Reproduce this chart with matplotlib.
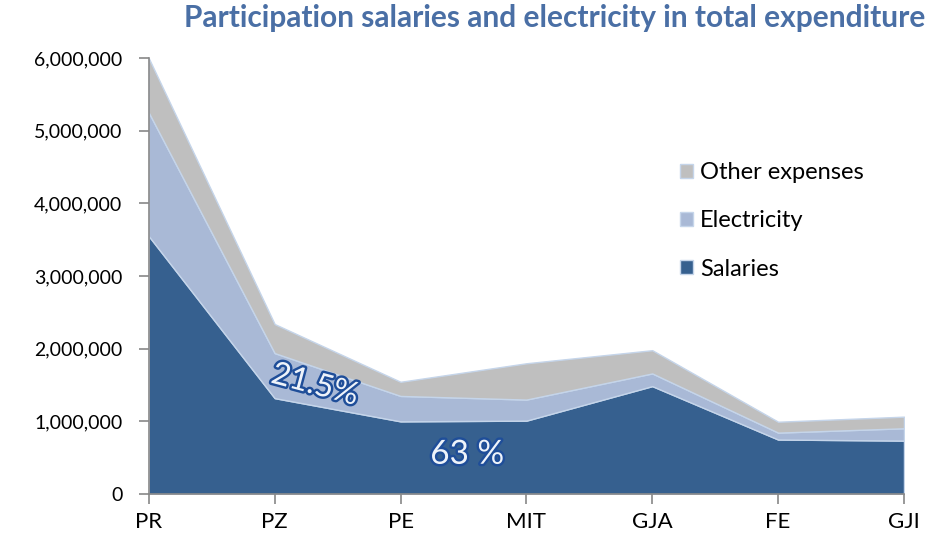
import matplotlib.pyplot as plt
import matplotlib.patheffects as pe
from matplotlib.ticker import FuncFormatter
import numpy as np

plt.rcParams['font.family'] = ['Lato', 'DejaVu Sans']

# values
units = ['PR', 'PZ', 'PE', 'MIT', 'GJA', 'FE', 'GJI']
salaries = [3550000, 1320000, 1000000, 1010000, 1485000, 750000, 735000]
electricity = [1700000, 620000, 350000, 290000, 175000, 95000, 170000]
other = [750000, 400000, 195000, 500000, 320000, 150000, 160000]
labels = ['Salaries', 'Electricity', 'Other expenses']
colors = ['#36608F', '#A9B9D6', '#BFBFBF']

fig = plt.figure(figsize=(9.3, 5.39), dpi=100)
ax = fig.add_axes([0.160, 0.0835, 0.812, 0.8085])

x = np.arange(len(units))
ax.stackplot(x, salaries, electricity, other, colors=colors,
             labels=labels, edgecolor='#C5D5EA', linewidth=1.0)

ax.set_xlim(0, len(units) - 1)
ax.set_ylim(0, 6000000)
ax.set_yticks(np.arange(0, 6000001, 1000000))
ax.yaxis.set_major_formatter(FuncFormatter(lambda v, p: f'{int(v):,}'))
ax.set_xticks(x)
ax.set_xticklabels(units)

for s in ['top', 'right']:
    ax.spines[s].set_visible(False)
for s in ['left', 'bottom']:
    ax.spines[s].set_color('#888888')
    ax.spines[s].set_linewidth(1.2)
ax.tick_params(axis='both', colors='#888888', length=7, width=1.2,
               labelcolor='black')
ax.tick_params(axis='y', labelsize=14, pad=12)
ax.tick_params(axis='x', labelsize=16, pad=6)
ax.set_axisbelow(False)

handles, lbls = ax.get_legend_handles_labels()
ax.legend(handles[::-1], lbls[::-1], loc='upper left',
          bbox_to_anchor=(0.675, 0.81), frameon=False, fontsize=17,
          handlelength=0.55, handleheight=0.55, handletextpad=0.3,
          labelspacing=1.15)

fig.text(0.995, 0.966, 'Participation salaries and electricity in total expenditure',
         ha='right', va='center', fontsize=21.5, fontweight='bold',
         color='#4A6FA5')

glow = [pe.withStroke(linewidth=3.5, foreground='#1F4E99')]
ax.text(1.32, 1500000, '21.5%', rotation=-15, ha='center', va='center',
        fontsize=23, color='#EEF3FA', path_effects=glow)
ax.text(2.53, 540000, '63 %', ha='center', va='center',
        fontsize=24, color='#EEF3FA', path_effects=glow)

fig.savefig('out.png', dpi=100)
